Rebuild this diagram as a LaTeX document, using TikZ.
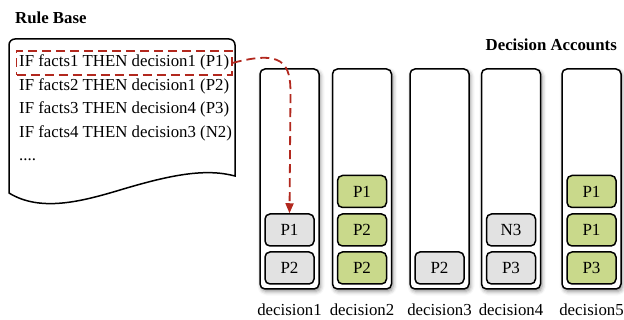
\documentclass[tikz,border=0pt]{standalone}
\usepackage{fontspec}
\setmainfont{Liberation Serif}
\usepackage{tikz}
\usetikzlibrary{arrows.meta,fit,shadows.blur}
\definecolor{itemgray}{RGB}{226, 226, 226}
\definecolor{itemgreen}{RGB}{201, 217, 139}
\definecolor{flowred}{RGB}{178, 40, 30}

\begin{document}
\begin{tikzpicture}[x=1pt,y=-1pt,
        txt/.style={font=\fontsize{16.8}{20}\selectfont, inner sep=0pt},
        heading/.style={font=\fontsize{16.8}{20}\selectfont\bfseries, inner sep=0pt},
        account/.style={draw, line width=1.5pt, rounded corners=5pt, fill=white,
          minimum width=59pt, minimum height=220pt,
          blur shadow={shadow xshift=1.5pt, shadow yshift=-2.5pt, shadow blur radius=4pt, shadow opacity=45}},
        item/.style={draw, line width=1.5pt, rounded corners=5pt, inner sep=0pt,
          minimum width=49pt, minimum height=32pt, font=\fontsize{17}{20}\selectfont},
        grayitem/.style={item, fill=itemgray},
        greenitem/.style={item, fill=itemgreen},
        hl/.style={draw=flowred, line width=1.8pt, dash pattern=on 9pt off 5pt},
        flow/.style={flowred, line width=1.8pt, dash pattern=on 9pt off 5pt,
          -{Triangle[width=8pt,length=10pt]}}]
        \useasboundingbox (0,0) rectangle (624,320);

        % rule base document
        \node[heading, anchor=west] (rbtitle) at (15,17.5) {Rule Base};
        \draw[line width=1.5pt] (9,193) [rounded corners=6pt] -- (9,39) -- (235,39) [sharp corners] -- (235,176)
          .. controls (205,168) and (170,175) .. (120,190)
          .. controls (80,202) and (40,212) .. (9,193) -- cycle;
        \foreach \r/\txt in {1/IF facts1 THEN decision1 (P1), 2/IF facts2 THEN decision1 (P2),
            3/IF facts3 THEN decision4 (P3), 4/IF facts4 THEN decision3 (N2)} {
          \node[txt, anchor=base west] (rule\r) at (19, 43.5+23.5*\r) {\txt};
        }
        \node[txt, anchor=base west] (rule5) at (19, 161) {....};
        \node[hl, fit=(rule1), inner xsep=2.5pt, inner ysep=4pt] (hl) {};

        % decision accounts
        \node[heading, anchor=east] (acctitle) at (617,44.5) {Decision Accounts};
        \foreach \i/\x in {1/289.5, 2/362, 3/439.5, 4/511, 5/591.5} {
          \node[account] (acc\i) at (\x,179) {};
          \node[txt] (lab\i) at (\x,309.5) {decision\i};
        }
        \foreach \n/\x/\y/\s/\t in {d1p1/289.5/230/grayitem/P1, d1p2/289.5/268/grayitem/P2,
            d2p1/362/191.5/greenitem/P1, d2p2/362/230/greenitem/P2, d2p3/362/268/greenitem/P2,
            d3p1/439.5/268/grayitem/P2,
            d4n3/511/230/grayitem/N3, d4p3/511/268/grayitem/P3,
            d5p1/591.5/191.5/greenitem/P1, d5p2/591.5/230/greenitem/P1, d5p3/591.5/268/greenitem/P3} {
          \node[\s] (\n) at (\x,\y) {\t};
        }

        \coordinate (drop) at (290.5,95);
        \draw[flow] (hl.east) .. controls (282,50) and (291,62) .. (drop) -- (d1p1.north);
      \end{tikzpicture}
\end{document}
